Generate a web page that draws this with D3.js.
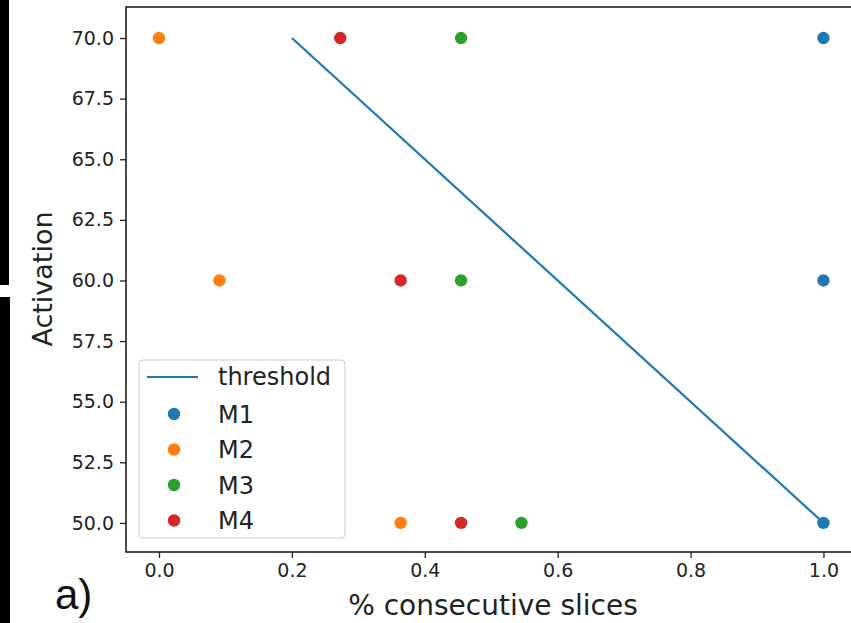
<!DOCTYPE html>
<html><head><meta charset="utf-8">
<script src="https://cdn.jsdelivr.net/npm/d3@7"></script>
<style>body{margin:0;background:#fff;}svg{display:block;}</style>
</head><body>
<svg id="c" width="851" height="623"></svg>
<script>
const seriesNames = ["M1","M2","M3","M4"];
const seriesColors = ["#1f77b4","#ff7f0e","#2ca02c","#d62728"];
const m1X = [1.0, 1.0, 1.0];          const m1Y = [70, 60, 50];
const m2X = [0.0, 1/11, 4/11];        const m2Y = [70, 60, 50];
const m3X = [5/11, 5/11, 6/11];       const m3Y = [70, 60, 50];
const m4X = [3/11, 4/11, 5/11];       const m4Y = [70, 60, 50];
const thresholdX = [0.2, 1.0];
const thresholdY = [70, 50];
const xTicks = [0.0, 0.2, 0.4, 0.6, 0.8, 1.0];
const yTicks = [50.0, 52.5, 55.0, 57.5, 60.0, 62.5, 65.0, 67.5, 70.0];

const svg = d3.select("#c");
const L = 126, R = 858, T = 7, B = 552;
const x = d3.scaleLinear().domain([-0.0497, 1.052]).range([L, R]);
const y = d3.scaleLinear().domain([48.8, 71.28]).range([B, T]);
const font = "DejaVu Sans, sans-serif";

// black scan bars on the left edge
svg.append("rect").attr("x",0).attr("y",0).attr("width",9).attr("height",285).attr("fill","#000");
svg.append("rect").attr("x",0).attr("y",297).attr("width",10).attr("height",326).attr("fill","#000");

// axes
const xAxis = svg.append("g").attr("transform",`translate(0,${B})`)
  .call(d3.axisBottom(x).tickValues(xTicks).tickFormat(d3.format(".1f")).tickSize(6).tickPadding(6));
const yAxis = svg.append("g").attr("transform",`translate(${L},0)`)
  .call(d3.axisLeft(y).tickValues(yTicks).tickFormat(d3.format(".1f")).tickSize(6).tickPadding(6));
[xAxis,yAxis].forEach(g=>{
  g.select(".domain").remove();
  g.selectAll("line").attr("stroke","#222").attr("stroke-width",1.3);
  g.selectAll("text").attr("fill","#222").style("font-family",font).style("font-size","19px");
});
// spines (left, top, bottom; right edge cut off)
svg.append("path").attr("d",`M${851},${T}H${L}V${B}H${851}`).attr("fill","none").attr("stroke","#111").attr("stroke-width",1.5);

// threshold line
svg.append("path")
  .attr("d", d3.line().x((d,i)=>x(thresholdX[i])).y(d=>y(d))(thresholdY))
  .attr("stroke","#1f77b4").attr("stroke-width",2.2).attr("fill","none");

// points
const allX = [m1X,m2X,m3X,m4X], allY = [m1Y,m2Y,m3Y,m4Y];
allX.forEach((xs,s)=>{
  svg.append("g").selectAll("circle").data(xs).join("circle")
    .attr("cx",d=>x(d)).attr("cy",(d,i)=>y(allY[s][i])).attr("r",6.2)
    .attr("fill",seriesColors[s]);
});

// legend
const lg = svg.append("g");
lg.append("rect").attr("x",139).attr("y",360).attr("width",206).attr("height",178).attr("rx",4)
  .attr("fill","#fff").attr("fill-opacity",0.8).attr("stroke","#ccc").attr("stroke-width",1);
lg.append("line").attr("x1",147).attr("x2",198).attr("y1",377).attr("y2",377).attr("stroke","#1f77b4").attr("stroke-width",2.2);
lg.append("text").attr("x",218).attr("y",385).text("threshold").attr("fill","#222").style("font-family",font).style("font-size","24px");
seriesNames.forEach((n,i)=>{
  const cy = 414 + i*35.5;
  lg.append("circle").attr("cx",174).attr("cy",cy).attr("r",6.2).attr("fill",seriesColors[i]);
  lg.append("text").attr("x",218).attr("y",cy+8.5).text(n).attr("fill","#222").style("font-family",font).style("font-size","24px");
});

// axis labels
svg.append("text").attr("x",493).attr("y",615).attr("text-anchor","middle").text("% consecutive slices")
  .attr("fill","#222").style("font-family",font).style("font-size","28px");
svg.append("text").attr("transform","translate(52,279) rotate(-90)").attr("text-anchor","middle").text("Activation")
  .attr("fill","#222").style("font-family",font).style("font-size","27px");
svg.append("text").attr("x",55).attr("y",609).text("a)").attr("fill","#111")
  .style("font-family","Liberation Sans, Arial, sans-serif").style("font-size","42px");
</script>
</body></html>
